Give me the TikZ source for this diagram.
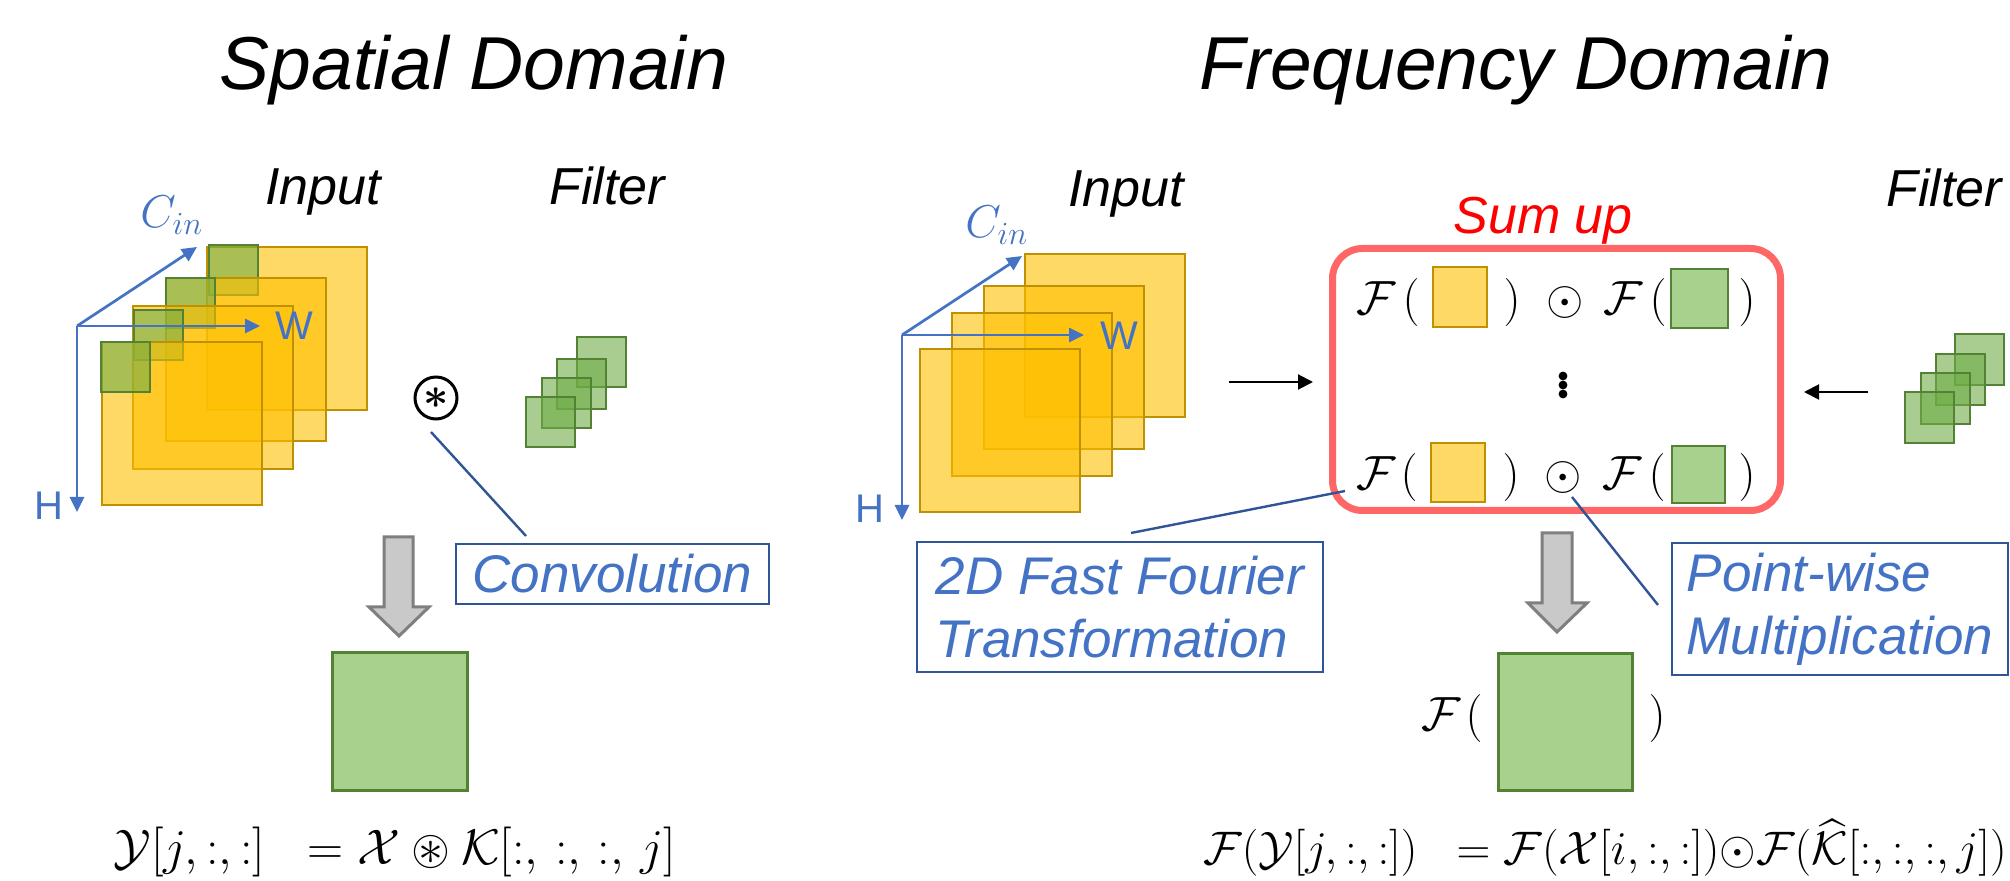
\RequirePackage{fix-cm}
\documentclass[tikz,border=0pt]{standalone}
\usepackage{amsmath,amssymb}
\usepackage{fontspec}
\setmainfont{Liberation Sans}
\usetikzlibrary{arrows.meta}

\definecolor{gold}{HTML}{FFC000}
\definecolor{goldline}{HTML}{BF9000}
\definecolor{lightgold}{HTML}{FFD966}
\definecolor{grn}{HTML}{70AD47}
\definecolor{grnline}{HTML}{548235}
\definecolor{lightgrn}{HTML}{A9D18E}
\definecolor{axisblue}{HTML}{4472C4}
\definecolor{navy}{HTML}{2F5597}
\definecolor{sumred}{HTML}{FF6666}
\definecolor{arrowgray}{HTML}{C9C9C9}
\definecolor{arrowedge}{HTML}{7F7F7F}

\begin{document}
\begin{tikzpicture}[x=0.5pt, y=-0.5pt,
  ttl/.style={font=\fontsize{37.5}{45}\selectfont\itshape, anchor=base, inner sep=0},
  hdr/.style={font=\fontsize{26}{31}\selectfont\itshape, anchor=base west, inner sep=0},
  axlbl/.style={text=axisblue, font=\fontsize{20}{24}\selectfont, anchor=base west, inner sep=0},
  cinlbl/.style={text=axisblue, font=\fontsize{23}{28}\selectfont, anchor=base west, inner sep=0},
  mth/.style={font=\fontsize{24}{29}\selectfont, anchor=base, inner sep=0},
  eqn/.style={anchor=base, inner sep=0},
  note/.style={draw=navy, line width=1.4pt, text=axisblue,
    font=\fontsize{26.5}{31.5}\selectfont\itshape, align=left, inner sep=0},
  axis/.style={draw=axisblue, line width=1.35pt, -{Triangle[length=7.5pt,width=7pt]}},
  ysq/.style={fill=gold, fill opacity=0.6, draw=goldline, line width=1.35pt},
  gsq/.style={fill=grn, fill opacity=0.6, draw=grnline, line width=1.4pt},
  ycell/.style={fill=lightgold, draw=goldline, line width=1.3pt},
  gcell/.style={fill=lightgrn, draw=grnline, line width=1.3pt},
  outsq/.style={fill=lightgrn, draw=grnline, line width=1.5pt},
  blockarrow/.style={fill=arrowgray, draw=arrowedge, line width=1.5pt},
  leader/.style={draw=navy, line width=1.2pt},
  feed/.style={draw=black, line width=1pt, -{Triangle[length=7.5pt,width=7.5pt]}},
  opcirc/.style={circle, draw=black, line width=1.5pt, minimum size=21pt, inner sep=0}
]
\useasboundingbox (0,0) rectangle (2010,881);
\fill[white] (0,0) rectangle (2010,881);

% ---------------- titles ----------------
\node[ttl] (spatial) at (474,90) {Spatial Domain};
\node[ttl] (freq) at (1516,90) {Frequency Domain};

% ================= spatial domain =================
\node[hdr] (sin) at (265,205) {Input};
\node[hdr] (sfil) at (549,205) {Filter};

% input feature maps with sliding windows
\draw[ysq] (207,247) rectangle +(160,163);
\draw[gsq] (209,245) rectangle +(49,50);
\draw[ysq] (166,278) rectangle +(160,163);
\draw[gsq] (166,278) rectangle +(49,50);
\draw[ysq] (133,306) rectangle +(160,163);
\draw[gsq] (134,310) rectangle +(49,50);
\draw[ysq] (102,342) rectangle +(160,163);
\draw[gsq] (101,342) rectangle +(49,50);

% axes
\coordinate (so) at (77,326);
\coordinate (scin) at (197,247);
\coordinate (sw) at (260,326);
\coordinate (sh) at (77,512);
\draw[axis] (so) -- (scin);
\draw[axis] (so) -- (sw);
\draw[axis] (so) -- (sh);
\node[cinlbl] (scinlbl) at (140,228) {$C_{in}$};
\node[axlbl] (swlbl) at (275,340) {W};
\node[axlbl] (shlbl) at (34,520) {H};

% filters
\draw[gsq] (577,337) rectangle +(49,50);
\draw[gsq] (557,359) rectangle +(49,50);
\draw[gsq] (542,378) rectangle +(49,50);
\draw[gsq] (526,397) rectangle +(49,50);

% convolution operator and its callout
\node[opcirc] (conv) at (436,398) {\fontsize{22}{22}\selectfont$\boldsymbol{\ast}$};
\node[note, minimum width=156.5pt, minimum height=30pt] (convbox) at (612.5,574) {Convolution};
\coordinate (convlead) at (431,432);
\coordinate (convtip) at (526,536);
\draw[leader] (convlead) -- (convtip);

% result
\draw[blockarrow] (384,537) -- (413,537) -- (413,607) -- (429,607) -- (399,636)
  -- (369,607) -- (384,607) -- cycle;
\draw[outsq] (332,653) rectangle (467,791);

\node[eqn, font=\fontsize{25}{30}\selectfont] (seq) at (395,865)
  {$\mathcal{Y}[j,{:},{:}]\;\ = \mathcal{X}\circledast\mathcal{K}[{:},\,{:},\,{:},\,j]$};

% ================= frequency domain =================
\node[hdr] (fin) at (1068,207) {Input};
\node[hdr] (ffil) at (1886,207) {Filter};

\draw[ysq] (1025,254) rectangle +(160,163);
\draw[ysq] (984,286) rectangle +(160,163);
\draw[ysq] (952,313) rectangle +(160,163);
\draw[ysq] (920,349) rectangle +(160,163);

\coordinate (fo) at (902,335);
\coordinate (fcin) at (1022,256);
\coordinate (fw) at (1084,335);
\coordinate (fh) at (902,520);
\draw[axis] (fo) -- (fcin);
\draw[axis] (fo) -- (fw);
\draw[axis] (fo) -- (fh);
\node[cinlbl] (fcinlbl) at (965,238) {$C_{in}$};
\node[axlbl] (fwlbl) at (1100,350) {W};
\node[axlbl] (fhlbl) at (855,523) {H};

\draw[gsq] (1955,334) rectangle +(49,51);
\draw[gsq] (1936,354) rectangle +(49,51);
\draw[gsq] (1921,373) rectangle +(49,51);
\draw[gsq] (1905,392) rectangle +(49,51);

% element-wise products, summed over the input channels
\node[text=red, font=\fontsize{26}{31}\selectfont\itshape, anchor=base, inner sep=0] (sumlbl) at (1543,234) {Sum up};
\draw[draw=sumred, line width=3.5pt, rounded corners=15pt] (1332.5,248.5) rectangle (1780.5,510.5);

\node[mth] (fa) at (1376,315) {$\mathcal{F}$};
\node[mth] (la) at (1411,315) {$($};
\draw[ycell] (1433,267) rectangle (1487,327);
\node[mth] (ra) at (1512,315) {$)$};
\node[mth] (oa) at (1565,315) {$\odot$};
\node[mth] (ga) at (1623,315) {$\mathcal{F}$};
\node[mth] (ma) at (1658,315) {$($};
\draw[gcell] (1671,269) rectangle (1728,328);
\node[mth] (na) at (1747,315) {$)$};

\fill (1563,376) circle (2.2pt);
\fill (1563,385) circle (2.2pt);
\fill (1563,394) circle (2.2pt);

\node[mth] (fb) at (1376,490) {$\mathcal{F}$};
\node[mth] (lb) at (1409,490) {$($};
\draw[ycell] (1431,443) rectangle (1485,502);
\node[mth] (rb) at (1511,490) {$)$};
\node[mth] (ob) at (1563,490) {$\odot$};
\node[mth] (gb) at (1622,490) {$\mathcal{F}$};
\node[mth] (mb) at (1657,490) {$($};
\draw[gcell] (1672,446) rectangle (1725,503);
\node[mth] (nb) at (1747,490) {$)$};

% feeding arrows
\coordinate (inout) at (1229,382);
\coordinate (inbox) at (1313,382);
\coordinate (filout) at (1868,392);
\coordinate (filbox) at (1804,392);
\draw[feed] (inout) -- (inbox);
\draw[feed] (filout) -- (filbox);

% callouts
\node[note, minimum width=203pt, minimum height=65pt] (fftbox) at (1120,607)
  {2D Fast Fourier\\Transformation};
\node[note, minimum width=168pt, minimum height=66pt] (pwbox) at (1840,609)
  {Point-wise\\Multiplication};
\coordinate (fftlead) at (1345,491);
\coordinate (ffttip) at (1131,533);
\draw[leader] (fftlead) -- (ffttip);
\coordinate (pwlead) at (1572,497);
\coordinate (pwtip) at (1658,605);
\draw[leader] (pwlead) -- (pwtip);

% result
\draw[blockarrow] (1542,533) -- (1572,533) -- (1572,603) -- (1587,603) -- (1557,632)
  -- (1528,603) -- (1542,603) -- cycle;
\draw[outsq] (1498,654) rectangle (1632,791);
\node[mth] (fc) at (1441,731) {$\mathcal{F}$};
\node[mth] (lc) at (1474,731) {$($};
\node[mth] (rc) at (1657,731) {$)$};

\node[eqn, font=\fontsize{23.5}{28}\selectfont] (feq) at (1605,865)
  {$\mathcal{F}(\mathcal{Y}[j,{:},{:}])\;\ = \mathcal{F}(\mathcal{X}[i,{:},{:}]){\odot}\mathcal{F}(\widehat{\mathcal{K}}[{:},{:},{:},j])$};
\end{tikzpicture}
\end{document}
